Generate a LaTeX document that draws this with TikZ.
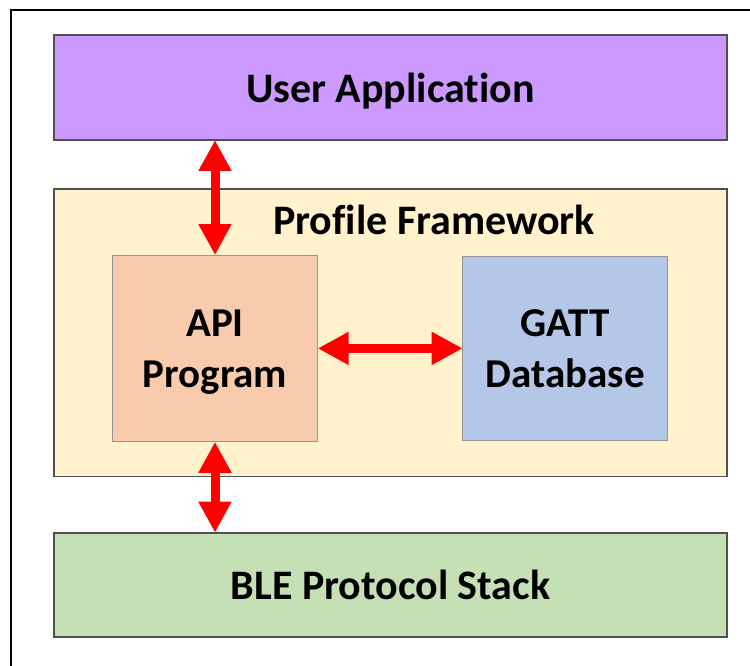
\documentclass[tikz,border=0pt]{standalone}
\usepackage{fontspec}
\setmainfont{Carlito}[Ligatures=NoCommon]
\usetikzlibrary{arrows.meta}
\definecolor{uacol}{HTML}{CC99FF}
\definecolor{pfcol}{HTML}{FFF2CC}
\definecolor{apicol}{HTML}{F8CBAD}
\definecolor{gattcol}{HTML}{B4C7E7}
\definecolor{blecol}{HTML}{C5E0B4}
\definecolor{outerline}{HTML}{505050}
\definecolor{innerline}{HTML}{959595}
\begin{document}
\begin{tikzpicture}[x=1pt,y=-1pt,
  layer/.style={draw=outerline, line width=1.6pt, inner sep=0pt, outer sep=0pt, minimum width=673pt,
    text depth=0pt, font=\fontsize{42}{50}\selectfont\bfseries},
  inner/.style={draw=innerline, line width=1.1pt, inner sep=0pt, outer sep=0pt, align=center,
    font=\fontsize{41}{51}\selectfont\bfseries},
  dbl/.style={draw=red, line width=9pt, {Triangle[length=31pt,width=31pt]}-{Triangle[length=31pt,width=31pt]}}
]
\useasboundingbox (0,0) rectangle (750,666);
\draw[line width=2pt] (10.5,666) -- (10.5,10.5) -- (750,10.5);

\node[layer, fill=uacol, minimum height=105pt] (ua) at (390.5,87.5) {User Application};
\node[layer, fill=pfcol, minimum height=287.7pt] (pf) at (390.5,332.8) {};
\node[anchor=base, inner sep=0pt, font=\fontsize{42}{50}\selectfont\bfseries] (pftitle) at (434,234) {Profile Framework};
\node[inner, fill=apicol, minimum width=205.4pt, minimum height=186.7pt, text depth=0pt] (api) at (215,348.4) {API\\Program};
\node[inner, fill=gattcol, minimum width=205pt, minimum height=183.3pt, text depth=0pt] (gatt) at (565.2,348.4) {GATT\\Database};
\node[layer, fill=blecol, minimum height=104pt] (ble) at (390.5,584.7) {BLE Protocol Stack};

\draw[dbl] (ua.south -| api.north) -- (api.north);
\draw[dbl] (api.east) -- (gatt.west);
\draw[dbl] (api.south) -- (ble.north -| api.south);
\end{tikzpicture}
\end{document}
